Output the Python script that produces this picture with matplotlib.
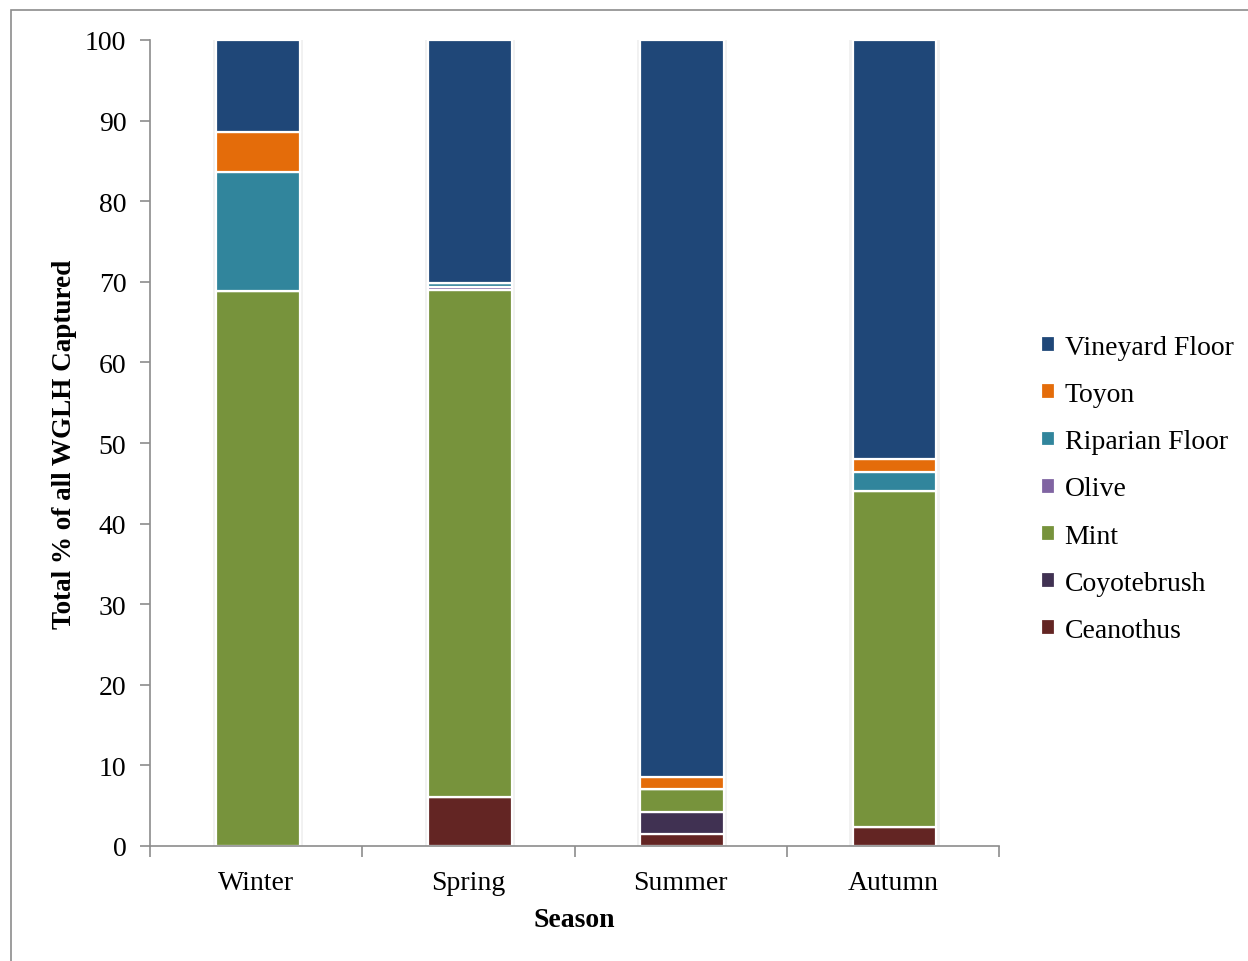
import matplotlib.pyplot as plt
from matplotlib.patches import Rectangle
import numpy as np

seasons = ['Winter', 'Spring', 'Summer', 'Autumn']

# stacking order bottom -> top
ceanothus = [0.0, 6.1, 1.5, 2.4]
coyotebrush = [0.0, 0.0, 2.7, 0.0]
mint = [68.9, 62.9, 2.9, 41.6]
olive = [0.0, 0.3, 0.0, 0.0]
riparian = [14.7, 0.6, 0.0, 2.4]
toyon = [5.0, 0.0, 1.4, 1.6]
vineyard = [11.4, 30.1, 91.5, 52.0]

series = [
    ('Ceanothus', ceanothus, '#632523'),
    ('Coyotebrush', coyotebrush, '#403152'),
    ('Mint', mint, '#77933C'),
    ('Olive', olive, '#8064A2'),
    ('Riparian Floor', riparian, '#31859C'),
    ('Toyon', toyon, '#E46C0A'),
    ('Vineyard Floor', vineyard, '#1F4778'),
]

plt.rcParams['font.family'] = ['Liberation Serif', 'DejaVu Serif']
fs = 20

fig = plt.figure(figsize=(12.48, 9.62), dpi=100)
ax = fig.add_axes([150 / 1248, 115 / 962, 849 / 1248, 806 / 962])

# outer chart border
fig.patches.append(Rectangle((11 / 1248, -0.1), 1.2, 1.1 - 11 / 962,
                             transform=fig.transFigure, fill=False,
                             edgecolor='#8c8c8c', linewidth=1.2))

x = np.arange(len(seasons))
width = 0.395

# soft shadow behind bars
totals = np.sum([s[1] for s in series], axis=0)
ax.bar(x + 0.008, totals, width + 0.03, color='#d9d9d9', alpha=0.35, zorder=1, linewidth=0)

bottom = np.zeros(len(seasons))
handles = []
for name, vals, col in series:
    vals = np.array(vals)
    b = ax.bar(x + 0.008, vals, width, bottom=bottom, color=col, edgecolor='white',
               linewidth=1.6, label=name, zorder=2)
    handles.append(b)
    bottom += vals

ax.set_xlim(-0.5, 3.5)
ax.set_ylim(0, 100)
ax.set_yticks(range(0, 101, 10))
ax.set_xticks(x)
ax.set_xticklabels(seasons)
ax.tick_params(axis='x', length=0, labelsize=fs, pad=17)
ax.set_xticks([-0.5, 0.5, 1.5, 2.5, 3.5], minor=True)
ax.tick_params(axis='x', which='minor', length=8, color='#8c8c8c', width=1.2)
ax.tick_params(axis='y', length=7, color='#8c8c8c', width=1.2, labelsize=fs, pad=10)

for s in ['top', 'right']:
    ax.spines[s].set_visible(False)
for s in ['left', 'bottom']:
    ax.spines[s].set_color('#8c8c8c')
    ax.spines[s].set_linewidth(1.2)

ax.set_ylabel('Total % of all WGLH Captured', fontsize=19.5, fontweight='bold', labelpad=6)
ax.set_xlabel('Season', fontsize=fs, fontweight='bold', labelpad=9)

leg = fig.legend(handles[::-1], [s[0] for s in series][::-1],
                 loc='center left', bbox_to_anchor=(1016 / 1248, 1 - 490 / 962),
                 frameon=False, fontsize=fs, handlelength=0.5, handleheight=0.5,
                 handletextpad=0.35, labelspacing=0.8)

fig.savefig('out.png', dpi=100)
